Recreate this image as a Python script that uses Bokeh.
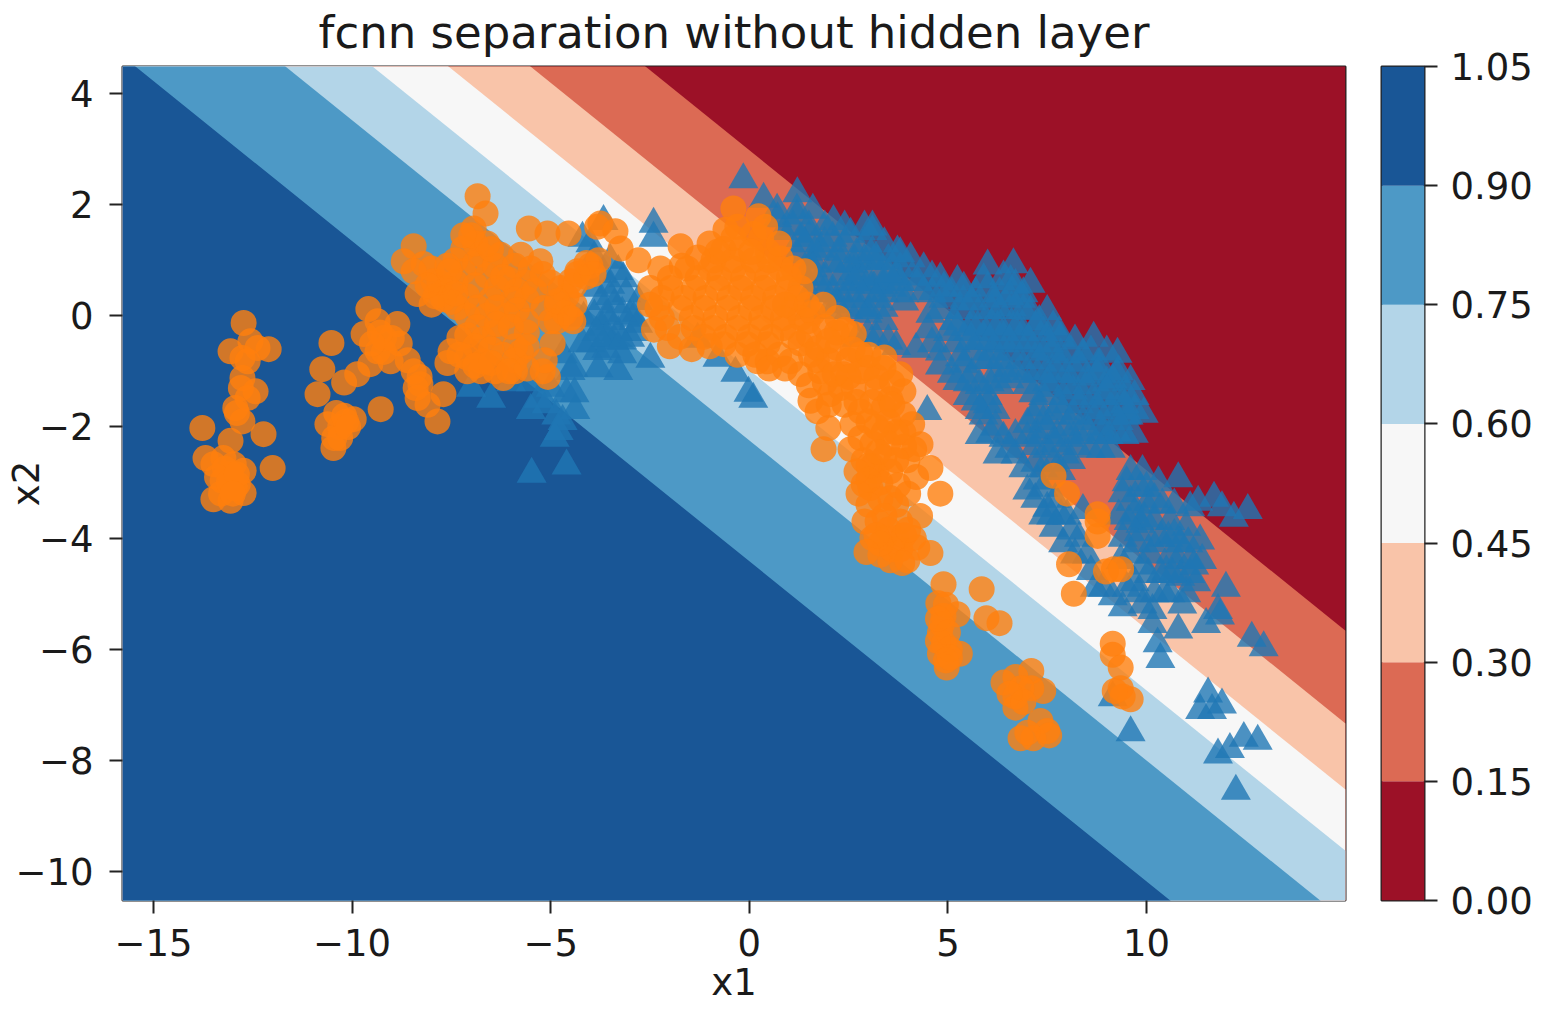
from bokeh.plotting import figure
from bokeh.layouts import row
from bokeh.embed import file_html
from bokeh.resources import INLINE
from bokeh.models import Range1d, FixedTicker, Title

title_text = "fcnn separation without hidden layer"
x_label = "x1"
y_label = "x2"
x_ticks = [-15, -10, -5, 0, 5, 10]
y_ticks = [-10, -8, -6, -4, -2, 0, 2, 4]
x_tick_labels = ["−15", "−10", "−5", "0", "5", "10"]
y_tick_labels = ["−10", "−8", "−6", "−4", "−2", "0", "2", "4"]
x_limits = [-15.78, 15.01]
y_limits = [-10.52, 4.485]

levels = [0.0, 0.15, 0.30, 0.45, 0.60, 0.75, 0.90, 1.05]
level_labels = ["0.00", "0.15", "0.30", "0.45", "0.60", "0.75", "0.90", "1.05"]
level_colors = ["#9c1127", "#dc6a54", "#f9c4a9", "#f7f7f7", "#b3d5e8", "#4d99c6", "#195696"]
# decision boundary x2 = intercept + slope * x1, for levels 0.15 ... 0.90
boundary_slope = -0.576
boundary_intercepts = [2.980, 1.312, 0.123, -0.979, -2.241, -4.416]

tri_points = [
 (-5.48,-2.85),(-4.6,-2.7),(-4.8,-2.08),(-4.86,-1.8),(-4.38,-1.7),(-5.5,-1.7),(-4.5,-1.0),(-6.5,-1.5),(-7.0,-1.3),(-5.5,-1.2),(-5.1,-1.6),
 (-4.43,-0.94),(-3.3,-1.0),(-2.49,-0.78),(-3.83,-0.64),(-4.17,-0.04),(-3.5,-0.1),(-2.91,-0.04),(-3.17,0.67),(-3.75,0.26),(-2.8,0.26),(-3.4,-0.45),(-3.0,-0.4),(-4.0,1.3),(-3.67,1.7),(-2.41,1.65),(-2.41,1.4),
 (-1.3,-0.42),(-0.8,-0.76),(-0.35,-1.03),(-0.02,-1.39),(0.1,-1.5),(-0.15,2.45),
 (-4.0,-0.5),(-3.6,-0.6),(-3.2,-0.7),(-3.7,-0.2),(-3.3,-0.3),(-2.9,-0.3),(-3.9,0.0),(-3.4,0.2),(-3.0,0.0),(-3.5,0.55),(-3.1,0.4),(-4.2,-0.5),(-3.8,-0.95),(-4.7,-0.7),(-4.2,1.4),(-3.9,1.05),(-3.5,1.0),
 (-6.0,-1.2),(-5.0,-1.3),(-5.3,-1.5),(-4.6,-1.4),(-4.9,-2.2),(-4.7,-1.9),(-4.4,-1.4),
 (0.36,2.1),(1.21,2.2),(2.12,1.7),(3.1,1.6),(3.73,1.15),(4.06,1.03),(0.71,1.75),(0.86,1.52),(1.2,1.8),(1.54,1.47),(1.79,1.2),(1.2,1.1),(2.1,1.4),(2.55,1.47),(2.12,0.93),(2.63,0.93),(3.23,0.98),(3.8,0.85),(1.7,0.6),(2.55,0.55),(3.1,0.55),(3.6,0.5),(2.1,0.4),(2.8,0.14),(3.38,0.14),(3.9,0.25),(2.98,-0.33),
 (0.7,1.9),(1.2,1.9),(1.6,1.9),(1.1,1.6),(1.5,1.6),(1.9,1.6),(2.4,1.6),(2.9,1.6),(1.4,1.3),(1.9,1.3),(2.4,1.3),(2.9,1.3),(3.4,1.3),(1.6,1.0),(2.9,1.0),(3.5,1.0),
 (1.4,0.7),(1.9,0.7),(2.3,0.7),(2.8,0.7),(3.3,0.7),(3.7,0.7),(4.1,0.7),(4.6,0.7),(1.5,0.4),(2.3,0.4),(2.9,0.4),(3.4,0.4),(3.9,0.4),(4.6,0.4),(5.1,0.4),(5.7,0.4),(6.3,0.4),(6.9,0.4),
 (1.5,0.1),(2.0,0.1),(2.5,0.1),(3.0,0.1),(4.8,0.1),(5.3,0.1),(5.8,0.1),(6.3,0.1),(6.9,0.1),
 (3.1,1.52),(3.8,1.12),(4.39,0.85),(4.81,0.67),(5.24,0.62),(6.0,0.9),(6.65,0.92),(7.08,0.57),(7.5,0.08),(7.84,-0.4),(8.67,-0.4),(9.27,-0.69),(9.6,-1.18),(9.93,-1.77),(9.68,-2.13),
 (2.63,0.8),(3.13,0.98),(3.0,0.6),(3.38,0.55),(3.8,0.6),(4.39,0.44),(4.89,0.3),(5.39,0.26),(6.0,0.5),(6.58,0.62),(6.84,0.3),(6.1,0.1),(6.6,0.15),(7.08,0.08),(7.3,-0.1),
 (2.98,0.03),(3.38,-0.1),(2.7,-0.4),(3.2,-0.4),(4.56,0.03),(5.15,-0.1),(5.6,-0.15),(6.1,-0.15),(6.6,-0.15),(5.2,-0.5),(5.8,-0.46),(6.3,-0.5),(6.8,-0.5),(7.33,-0.6),(7.84,-0.7),(8.4,-0.7),(8.8,-0.85),(9.3,-1.0),
 (5.0,-0.3),(5.5,-0.3),(5.95,-0.3),(6.4,-0.3),(6.9,-0.3),(7.4,-0.3),(7.8,-0.3),(4.8,-0.65),(5.6,-0.65),(6.1,-0.65),(6.55,-0.65),(7.1,-0.65),(7.6,-0.65),(8.1,-0.65),(8.6,-0.65),(9.0,-0.65),
 (5.1,-1.05),(5.6,-1.05),(6.25,-1.05),(6.75,-1.05),(7.25,-1.05),(7.75,-1.05),(8.25,-1.05),(8.75,-1.05),(9.25,-1.05),
 (5.5,-1.45),(6.0,-1.45),(7.4,-1.45),(7.9,-1.45),(8.4,-1.45),(8.9,-1.45),(9.3,-1.45),(9.7,-1.45),
 (5.9,-1.8),(7.15,-1.8),(7.65,-1.8),(8.15,-1.8),(8.65,-1.8),(9.15,-1.8),(9.55,-1.8),
 (5.8,-2.15),(6.7,-2.15),(7.25,-2.15),(7.75,-2.15),(8.3,-2.15),(8.85,-2.15),(9.45,-2.15),(6.7,-2.5),(7.95,-2.5),
 (5.4,-0.87),(6.0,-0.8),(6.5,-0.95),(7.0,-1.0),(7.5,-1.0),(8.0,-1.05),(8.5,-1.1),(9.0,-1.2),(9.5,-1.4),(9.7,-1.7),(5.24,-1.18),(5.8,-1.25),(6.3,-1.25),(7.15,-1.4),(7.6,-1.3),(8.15,-1.35),(8.65,-1.5),(9.1,-1.65),(9.5,-1.8),
 (6.0,-1.6),(5.7,-1.55),(7.4,-1.9),(7.9,-1.72),(8.4,-1.9),(8.85,-2.0),(9.25,-2.1),(6.07,-2.13),(6.4,-2.2),(7.0,-2.2),(7.5,-2.4),(8.05,-2.2),(8.6,-2.4),(9.1,-2.4),(6.25,-2.5),(7.2,-2.65),(7.65,-2.65),(8.1,-2.6),(4.48,-1.72),
 (7.0,-3.15),(7.26,-2.97),(7.5,-3.46),(7.66,-3.82),(8.1,-3.87),(8.4,-3.5),(7.7,-3.3),(7.2,-3.3),(7.4,-3.1),(7.85,-3.6),(7.4,-3.6),(7.9,-4.1),(8.3,-4.0),(8.5,-4.3),(8.7,-4.9),
 (9.6,-2.8),(9.85,-3.1),(9.4,-3.2),(10.0,-3.4),(9.7,-3.55),(10.2,-3.7),(9.8,-3.9),(10.8,-2.93),(11.1,-3.45),(11.7,-3.28),(12.2,-3.64),(12.55,-3.5),(11.9,-3.45),(11.3,-3.35),
 (9.5,-3.0),(10.0,-3.1),(9.3,-3.6),(9.4,-4.0),(9.6,-4.3),(10.4,-3.4),(10.6,-3.7),(11.0,-3.8),(9.9,-4.5),(9.7,-4.8),(10.5,-4.6),(11.1,-4.65),(9.5,-4.9),(10.8,-4.4),(10.3,-3.0),(10.7,-3.4),(9.9,-5.2),(10.45,-5.0),(10.9,-5.2),
 (9.85,-3.75),(10.35,-4.0),(10.85,-4.1),(11.35,-4.05),(10.1,-4.3),(10.6,-4.3),(11.1,-4.4),(11.4,-4.4),(10.35,-4.65),(10.85,-4.7),(11.25,-4.8),(10.2,-5.0),(10.6,-5.0),(11.0,-5.0),
 (9.4,-5.25),(9.15,-5.05),(11.8,-5.3),(12.0,-4.9),(11.5,-5.55),(11.85,-5.4),(10.8,-5.65),(10.15,-5.55),(10.28,-5.9),(10.35,-6.18),(10.15,-5.3),(12.65,-5.8),(12.95,-5.97),
 (11.55,-6.8),(11.35,-7.1),(11.65,-7.1),(11.9,-7.0),(9.6,-7.5),(9.15,-6.87),(11.8,-7.9),(12.1,-7.8),(12.45,-7.6),(12.8,-7.65),(12.25,-8.55),(8.6,-4.6),(8.9,-4.9),
 # denser middle of the blue mass
 (5.25,-0.2),(5.75,-0.2),(6.25,-0.2),(6.75,-0.2),(7.2,-0.2),(7.65,-0.2),(5.3,-0.75),(5.85,-0.8),(6.3,-0.8),(6.8,-0.8),(7.3,-0.8),(7.8,-0.85),(8.3,-0.85),(8.8,-1.0),(9.15,-1.15),
 (5.5,-1.2),(6.05,-1.2),(6.55,-1.15),(7.0,-1.25),(7.5,-1.2),(8.0,-1.25),(8.5,-1.25),(9.0,-1.35),(9.45,-1.6),(5.8,-1.7),(6.2,-1.7),(7.3,-1.65),(7.8,-1.6),(8.3,-1.6),(8.8,-1.7),(9.3,-1.9),
 (6.2,-2.0),(7.0,-1.95),(7.5,-2.05),(8.0,-2.0),(8.55,-2.1),(9.05,-2.15),(6.55,-2.4),(7.2,-2.35),(7.7,-2.3),(8.25,-2.35),(8.85,-2.4),(6.9,-2.75),(7.4,-2.75),(7.85,-2.8),
 (1.3,1.4),(1.65,1.15),(2.25,1.15),(2.7,1.1),(3.1,1.15),(1.6,0.85),(2.3,0.95),(2.65,0.6),(3.2,0.3),(2.2,0.2),(2.6,0.3),(1.9,0.45),(3.5,0.75),(4.25,0.6),(4.9,0.5),(5.4,0.5),(5.9,0.65),(6.4,0.7),(6.7,0.55),
 (5.6,0.25),(6.15,0.3),(6.55,0.35),(5.55,-0.45),(6.05,-0.45),(6.55,-0.45),(7.05,-0.45),(7.55,-0.5),(8.2,-0.45),
 (9.9,-2.8),(10.2,-3.3),(9.6,-3.35),(9.95,-3.65),(9.55,-3.7),(9.35,-4.4),(9.75,-4.1),(10.15,-4.1),(10.55,-4.0),(11.05,-4.1),(10.05,-4.65),(10.65,-4.65),(9.8,-5.0),(11.2,-4.5),(10.7,-3.95),(8.0,-3.6),(8.2,-4.3),(7.6,-3.6),
 (-3.6,0.0),(-3.2,0.05),(-2.8,-0.15),(-3.6,-0.4),(-3.85,-0.3),(-3.2,-0.45),(-3.5,0.35),(-3.3,0.8),(-3.7,0.75),(-3.9,0.5),
 (3.7,-0.55),(4.2,-0.6),(4.6,-0.5),(4.5,-0.25),(3.5,-0.45),(4.8,-0.9),
]

circ_points = [
 (-12.73,-0.13),(-13.06,-0.64),(-12.1,-0.6),(-12.56,-0.46),(-12.38,-0.58),(-12.76,-0.76),(-12.63,-0.82),(-12.76,-1.12),(-12.8,-1.3),(-12.43,-1.36),(-12.63,-1.48),(-12.94,-1.66),(-12.76,-1.9),(-12.9,-1.75),(-13.77,-2.02),(-12.23,-2.13),(-13.06,-2.25),(-12.0,-2.74),
 (-13.69,-2.56),(-13.49,-2.67),(-13.24,-2.56),(-12.98,-2.67),(-12.73,-2.79),(-13.06,-2.85),(-13.26,-2.97),(-12.88,-3.03),(-12.73,-3.19),(-13.49,-3.3),(-13.06,-3.33),(-13.3,-3.2),(-12.95,-3.1),
 (-13.2,-2.75),(-13.4,-2.9),(-13.1,-3.0),(-12.9,-2.85),(-13.0,-3.2),
 (-10.52,-0.49),(-10.75,-0.96),(-10.87,-1.41),(-9.28,-1.68),(-7.85,-1.9),(-7.7,-1.41),(-10.47,-2.38),(-10.62,-1.95),(-10.4,-1.75),(-9.96,-1.86),(-10.3,-2.0),(-10.45,-2.2),(-10.15,-1.9),(-10.2,-1.8),(-10.3,-2.2),(-10.1,-2.0),
 (-9.59,0.12),(-9.71,-0.33),(-9.36,-0.1),(-8.86,-0.15),(-9.2,-0.4),(-8.8,-0.5),(-9.36,-0.64),(-9.03,-0.82),(-9.54,-0.87),(-9.87,-1.05),(-10.2,-1.2),(-8.6,-0.8),(-8.45,-1.0),(-8.28,-1.23),(-8.35,-1.48),(-8.1,-1.6),
 (-9.2,-0.65),(-9.0,-0.4),(-9.3,-0.3),(-9.5,-0.5),(-8.3,-1.1),(-8.4,-1.3),
 (-6.84,2.15),(-6.64,1.84),(-8.45,1.25),(-8.7,0.98),(-8.2,0.93),(-7.95,0.62),(-8.35,0.39),(-7.75,0.4),
 (-6.94,1.57),(-7.2,1.21),(-6.75,1.1),(-6.26,1.1),(-5.75,1.1),(-5.26,0.98),(-7.2,0.8),(-6.6,0.72),(-6.05,0.65),(-5.63,0.6),(-7.1,0.35),(-6.5,0.3),(-5.95,0.3),(-5.6,0.3),(-7.1,0.0),(-6.6,0.0),(-6.1,0.0),(-7.1,-0.35),(-6.7,-0.42),(-6.4,-0.3),
 (-7.52,-0.64),(-7.6,-0.85),(-7.1,-0.75),(-6.7,-0.82),(-7.1,-1.0),(-6.75,-1.0),(-6.4,-1.0),(-6.19,-1.12),(-5.9,-1.0),(-5.75,-0.65),(-5.6,-0.3),(-5.9,-0.55),
 (-7.4,1.0),(-6.9,0.95),(-6.4,0.9),(-5.9,0.9),(-5.5,0.85),(-7.4,0.6),(-6.9,0.55),(-6.35,0.5),(-5.85,0.45),(-5.4,0.45),(-7.35,0.15),(-6.85,0.15),(-6.35,0.15),(-5.85,0.1),(-6.85,-0.2),(-6.35,-0.15),(-7.3,-0.4),(-6.9,-0.55),(-6.5,-0.6),(-6.2,-0.7),(-7.3,-0.7),(-6.9,-0.9),(-6.5,-0.85),(-5.9,-0.8),(-5.6,-0.55),(-7.6,0.5),
 (-7.8,0.6),(-8.0,0.85),(-8.45,0.8),(-7.6,0.9),(-7.7,0.3),(-7.55,0.8),(-7.5,0.25),(-6.9,1.3),(-6.6,1.3),(-7.0,1.45),(-6.5,1.2),
 (-5.18,0.14),(-4.85,0.2),(-4.43,-0.1),(-4.85,-0.1),(-4.75,0.5),(-4.33,0.8),(-4.0,0.9),(-4.5,0.62),(-4.95,-0.5),(-5.2,-1.0),(-5.07,-1.1),(-5.15,-0.8),(-5.55,1.57),(-5.08,1.48),(-4.55,1.48),(-3.83,1.6),
 (-4.6,0.35),(-4.4,0.2),(-4.65,0.05),(-5.0,-0.1),(-4.4,0.55),(-4.1,0.7),(-3.8,1.0),
 (-4.33,0.75),(-4.83,0.26),(-4.5,-0.04),(-3.92,0.75),(-3.75,1.66),(-3.37,1.52),(-3.24,1.21),(-2.79,1.0),(-1.73,1.25),(-4.1,0.95),
 (-0.4,1.93),(0.23,1.79),(-0.6,1.55),(0.1,1.47),(-0.65,1.2),(-0.2,1.2),(0.46,1.16),(0.79,1.03),
 (-2.24,0.85),(-1.56,0.85),(-0.98,0.85),(-0.4,0.85),(0.21,0.85),(0.79,0.85),(1.11,0.85),
 (-2.49,0.5),(-1.98,0.5),(-1.4,0.5),(-0.8,0.5),(-0.22,0.5),(0.36,0.5),(0.96,0.5),(1.29,0.5),
 (-2.31,0.14),(-1.73,0.14),(-1.15,0.14),(-0.55,0.14),(0.03,0.14),(0.6,0.14),(1.11,0.14),
 (-2.06,-0.22),(-1.4,-0.22),(-0.9,-0.22),(-0.3,-0.22),(0.28,-0.22),(0.86,-0.22),
 (-0.65,-0.51),(-0.05,-0.51),(0.46,-0.51),(0.21,-0.82),(0.46,-0.82),
 (-2.0,0.68),(-1.3,0.68),(-0.75,0.68),(-0.15,0.68),(0.45,0.68),(1.0,0.68),
 (-2.2,0.32),(-1.65,0.32),(-1.1,0.32),(-0.5,0.32),(0.1,0.32),(0.65,0.32),(1.2,0.32),
 (-2.2,-0.04),(-1.45,-0.04),(-0.85,-0.04),(-0.25,-0.04),(0.3,-0.04),(0.85,-0.04),(1.3,-0.04),
 (-1.75,-0.38),(-1.15,-0.38),(-0.6,-0.38),(0.0,-0.38),(0.55,-0.38),(1.1,-0.38),
 (-0.9,1.0),(-0.4,1.0),(0.1,1.0),(0.5,1.0),(-0.4,1.4),(0.3,1.4),(-0.3,-0.7),(0.15,-0.7),(0.75,-0.7),(0.5,-0.95),(0.9,-0.95),
 (1.87,0.2),(2.22,-0.04),(2.63,-0.33),(1.47,-0.1),(1.29,-0.5),(1.04,-0.82),(1.72,-0.58),(2.22,-0.58),(2.8,-0.69),(1.29,-1.05),(1.79,-1.0),(2.37,-1.05),(2.98,-0.94),(3.38,-0.94),(3.8,-1.05),
 (1.54,-1.53),(2.04,-1.41),(2.63,-1.3),(3.23,-1.3),(3.88,-1.36),(1.72,-1.72),(1.99,-2.02),(1.87,-2.4),(2.8,-1.72),(3.38,-1.66),(3.88,-1.77),(2.8,-2.2),(3.38,-2.1),(3.88,-2.1),
 (1.6,0.05),(1.9,-0.2),(1.5,-0.35),(2.4,-0.25),(1.7,-0.8),(2.0,-0.8),(2.5,-0.8),(2.8,-1.0),(3.2,-1.1),(3.6,-1.2),(1.5,-1.25),(1.9,-1.2),(2.3,-1.3),(2.7,-1.55),(3.1,-1.55),(3.55,-1.5),(2.0,-1.6),(2.4,-1.6),(3.0,-1.9),(3.5,-1.9),(3.1,-2.3),(3.5,-2.3),(3.9,-2.35),(3.1,-2.7),(3.55,-2.8),(3.2,-2.8),
 (2.88,-2.6),(3.4,-2.55),(3.98,-2.6),(2.88,-3.03),(3.3,-3.0),
 (4.81,-3.2),(4.56,-2.74),(4.2,-2.9),(4.31,-2.31),(7.66,-2.88),(8.0,-3.2),(8.77,-3.7),(8.77,-3.96),(3.05,-3.1),(3.55,-3.28),(3.0,-2.7),(3.23,-3.7),(3.8,-3.7),(3.4,-4.0),(4.14,-4.0),(3.6,-4.2),
 (3.3,-3.3),(3.0,-3.4),(3.7,-3.4),(3.4,-3.6),(3.0,-2.95),(3.1,-4.0),(3.7,-4.0),(3.5,-3.85),(3.3,-4.3),(3.8,-4.2),
 (3.55,-4.4),(3.98,-4.4),(3.3,-4.1),(3.9,-3.95),(4.23,-4.17),(4.56,-4.27),
 (4.89,-4.83),(4.76,-5.17),(4.89,-5.4),(5.24,-5.37),(4.8,-5.7),(4.9,-5.9),(4.8,-6.08),(5.3,-6.08),(4.97,-6.33),
 (4.85,-5.55),(4.95,-5.2),(5.0,-5.7),(5.05,-6.0),(4.75,-5.85),(4.95,-6.2),(5.05,-6.15),(4.75,-5.45),
 (5.85,-4.92),(5.97,-5.44),(6.3,-5.53),
 (7.1,-6.39),(6.4,-6.6),(6.7,-6.5),(7.4,-6.75),(6.7,-6.85),(7.1,-6.7),(6.7,-7.05),(6.85,-6.7),(6.55,-6.8),(6.9,-6.95),(7.33,-7.29),(7.5,-7.47),(6.83,-7.6),(7.15,-7.6),(7.55,-7.55),(7.0,-7.5),
 (8.05,-4.47),(8.17,-5.0),(9.18,-4.56),(8.98,-4.6),(9.36,-4.56),(9.15,-5.9),(9.15,-6.1),(9.35,-6.33),(9.35,-6.7),(9.6,-6.9),(9.4,-6.85),(9.2,-6.75),(8.77,-3.57),
 # denser middle of the orange masses
 (2.5,-1.1),(2.2,-0.3),(2.6,-0.6),(3.0,-0.7),(3.4,-0.75),(2.0,-0.45),(1.55,-0.7),(2.15,-1.05),(3.6,-1.6),(4.1,-1.95),(4.15,-2.4),(3.7,-2.1),(2.6,-1.95),(2.55,-2.4),(2.7,-2.8),(3.7,-2.6),(3.75,-3.05),(2.75,-3.2),(4.0,-3.2),(3.2,-2.0),(3.25,-2.45),
 (2.9,-3.7),(3.2,-3.95),(2.95,-4.25),(3.85,-4.45),(4.3,-3.6),(4.0,-3.85),
 (-1.0,1.3),(-0.8,1.15),(-1.3,1.05),(-1.7,0.9),(-0.3,1.6),(0.4,1.6),(0.05,1.15),(0.75,1.3),(-2.5,0.2),(-2.4,-0.25),(-2.0,-0.55),(-1.45,-0.6),(-1.0,-0.55),(0.9,0.2),(1.45,0.2),(1.4,0.8),
 (-8.0,0.2),(-7.9,0.35),(-8.1,0.55),(-7.4,0.4),(-7.2,1.45),(-6.2,0.7),(-5.2,0.75),(-5.0,0.6),(-6.0,-0.2),(-5.6,-0.1),(-6.05,-1.0),(-5.6,-0.95),
]
tri_x1 = [pt[0] for pt in tri_points]
tri_x2 = [pt[1] for pt in tri_points]
circ_x1 = [pt[0] for pt in circ_points]
circ_x2 = [pt[1] for pt in circ_points]

FONT = "DejaVu Sans"
TEXT = "#1a1a1a"

def style_axis(ax, size):
    ax.major_label_text_font = FONT
    ax.major_label_text_font_size = size
    ax.major_label_text_color = TEXT
    ax.axis_line_color = None
    ax.major_tick_line_color = "#222222"
    ax.major_tick_line_width = 2
    ax.major_tick_out = 13
    ax.major_tick_in = 0
    ax.minor_tick_line_color = None

p = figure(width=1360, height=1010,
           output_backend="svg", toolbar_location=None,
           x_range=Range1d(*x_limits), y_range=Range1d(*y_limits),
           min_border_left=122, min_border_right=15, min_border_top=65, min_border_bottom=110)
p.grid.visible = False
p.outline_line_color = "#222222"
p.outline_line_width = 2
p.background_fill_color = level_colors[0]
p.border_fill_color = "white"

p.title.text = title_text
p.title.text_font = FONT
p.title.text_font_size = "45px"
p.title.text_font_style = "normal"
p.title.text_color = TEXT
p.title.align = "center"
p.title.offset = -6
p.title.standoff = 11
p.title.vertical_align = "top"

# decision bands: each one painted from its boundary down to the bottom of the plot
xs = [x_limits[0], x_limits[1]]
bottom_edge = [y_limits[0] - 1, y_limits[0] - 1]
tops = [[y_limits[1] + 1, y_limits[1] + 1]] + [[c + boundary_slope * xs[0], c + boundary_slope * xs[1]] for c in boundary_intercepts]
for top_edge, color in zip(tops, level_colors):
    p.varea(x=xs, y1=top_edge, y2=bottom_edge, fill_color=color)

p.scatter(tri_x1, tri_x2, marker="triangle", size=30, fill_color="#1f77b4", fill_alpha=0.8, line_color=None)
p.scatter(circ_x1, circ_x2, marker="circle", size=26, fill_color="#ff7f0e", fill_alpha=0.8, line_color=None)

style_axis(p.xaxis[0], "37px")
style_axis(p.yaxis[0], "37px")
p.xaxis[0].ticker = FixedTicker(ticks=x_ticks)
p.yaxis[0].ticker = FixedTicker(ticks=y_ticks)
p.xaxis[0].major_label_overrides = dict(zip(x_ticks, x_tick_labels))
p.yaxis[0].major_label_overrides = dict(zip(y_ticks, y_tick_labels))
p.yaxis[0].axis_label = y_label
p.yaxis[0].axis_label_text_font = FONT
p.yaxis[0].axis_label_text_font_size = "37px"
p.yaxis[0].axis_label_text_font_style = "normal"
p.yaxis[0].axis_label_text_color = TEXT
p.xaxis[0].major_label_standoff = 15
p.yaxis[0].major_label_standoff = 16
p.yaxis[0].axis_label_standoff = -36

p.add_layout(Title(text=x_label, align="center", text_font=FONT, text_font_size="37px",
                   text_font_style="normal", text_color=TEXT, standoff=0, vertical_align="bottom"), "below")

# colour bar
cb = figure(width=180, height=1010,
            output_backend="svg", toolbar_location=None,
            x_range=Range1d(0, 1), y_range=Range1d(levels[0], levels[-1]),
            x_axis_location=None, y_axis_location="right",
            min_border_left=21, min_border_right=116, min_border_top=65, min_border_bottom=110)
cb.grid.visible = False
cb.outline_line_color = "#222222"
cb.outline_line_width = 2
cb.quad(left=0, right=1, bottom=levels[:-1], top=levels[1:], fill_color=level_colors, line_color=None)
style_axis(cb.yaxis[0], "37px")
cb.yaxis[0].ticker = FixedTicker(ticks=levels)
cb.yaxis[0].major_label_overrides = dict(zip(levels, level_labels))
cb.yaxis[0].major_label_standoff = 13

page = row(p, cb, spacing=0)
open("out.html", "w").write(file_html(page, INLINE))
